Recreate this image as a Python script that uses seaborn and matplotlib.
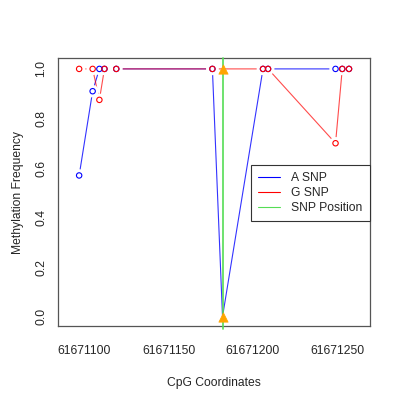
import matplotlib
matplotlib.use("Agg")
import matplotlib.pyplot as plt
import seaborn as sns
import pandas as pd
from matplotlib.lines import Line2D

# data
positions = [61671097, 61671105, 61671109, 61671112, 61671119, 61671176,
             61671182, 61671206, 61671209, 61671249, 61671253, 61671257]
a_snp = [0.57, 0.91, 1.0, 1.0, 1.0, 1.0, 0.0, 1.0, 1.0, 1.0, 1.0, 1.0]
g_snp = [1.0, 1.0, 0.875, 1.0, 1.0, 1.0, 1.0, 1.0, 1.0, 0.70, 1.0, 1.0]
snp_position = 61671182
snp_a_value = 0.0
snp_g_value = 1.0
x_ticks = [61671100, 61671150, 61671200, 61671250]
y_ticks = [0.0, 0.2, 0.4, 0.6, 0.8, 1.0]

sns.set_style("white")
plt.rcParams['font.family'] = ['Liberation Sans', 'DejaVu Sans']
FS = 8.7
GREEN = "#55dd55"

df_a = pd.DataFrame({"pos": positions, "val": a_snp})
df_g = pd.DataFrame({"pos": positions, "val": g_snp})
pts_a = df_a[df_a["pos"] != snp_position]
pts_g = df_g[df_g["pos"] != snp_position]

fig = plt.figure(figsize=(4, 4), dpi=100)
ax = fig.add_axes([0.146, 0.185, 0.778, 0.67])

sns.lineplot(data=df_a, x="pos", y="val", color="blue", lw=0.8, alpha=0.8,
             estimator=None, sort=False, ax=ax, legend=False, zorder=2)
sns.lineplot(data=df_g, x="pos", y="val", color="red", lw=0.8, alpha=0.7,
             estimator=None, sort=False, ax=ax, legend=False, zorder=2)
ax.axvline(snp_position, color=GREEN, lw=1.2, zorder=3, clip_on=False, ymin=-0.01, ymax=1.0)
# white gaps around points (R type="b" look)
for d in (pts_a, pts_g):
    sns.scatterplot(data=d, x="pos", y="val", ax=ax, marker="o", s=80,
                    color="white", edgecolor="none", linewidth=0, legend=False, zorder=3.5)
sns.scatterplot(data=pts_a, x="pos", y="val", ax=ax, marker="o", s=15,
                facecolors="none", edgecolor="blue", linewidth=0.8, legend=False, zorder=4)
sns.scatterplot(data=pts_g, x="pos", y="val", ax=ax, marker="o", s=15,
                facecolors="none", edgecolor="red", linewidth=0.8, legend=False, zorder=4)
sns.scatterplot(x=[snp_position, snp_position], y=[snp_a_value, snp_g_value], ax=ax,
                marker="^", s=45, color="orange", edgecolor="orange", linewidth=0.5,
                legend=False, zorder=5)

ax.set_xlim(61671084.7, 61671269.2)
ax.set_ylim(-0.0375, 1.044)
ax.set_xticks(x_ticks)
ax.set_xticklabels([str(t) for t in x_ticks], fontsize=FS)
ax.set_yticks(y_ticks)
ax.set_yticklabels([f"{t:.1f}" for t in y_ticks], fontsize=FS, rotation=90, va="center")
ax.tick_params(axis="both", direction="out", length=5, width=0.8, color="#333333")
ax.tick_params(axis="x", pad=9)
ax.tick_params(axis="y", pad=3)
for s in ax.spines.values():
    s.set_color("#555555")
    s.set_linewidth(0.9)

ax.set_xlabel("CpG Coordinates", fontsize=FS, labelpad=14)
ax.set_ylabel("Methylation Frequency", fontsize=FS, labelpad=8)

handles = [Line2D([0], [0], color="blue", lw=0.8),
           Line2D([0], [0], color="red", lw=0.8),
           Line2D([0], [0], color=GREEN, lw=0.8)]
leg = ax.legend(handles, ["A SNP", "G SNP", "SNP Position"], loc="center right",
                bbox_to_anchor=(1.0, 0.497), borderaxespad=0, fancybox=False,
                edgecolor="#333333", framealpha=1, fontsize=FS, handlelength=1.8,
                handletextpad=0.9, labelspacing=0.25, borderpad=0.6)
leg.get_frame().set_linewidth(0.8)
leg.set_zorder(10)

fig.savefig("out.png", dpi=100)
